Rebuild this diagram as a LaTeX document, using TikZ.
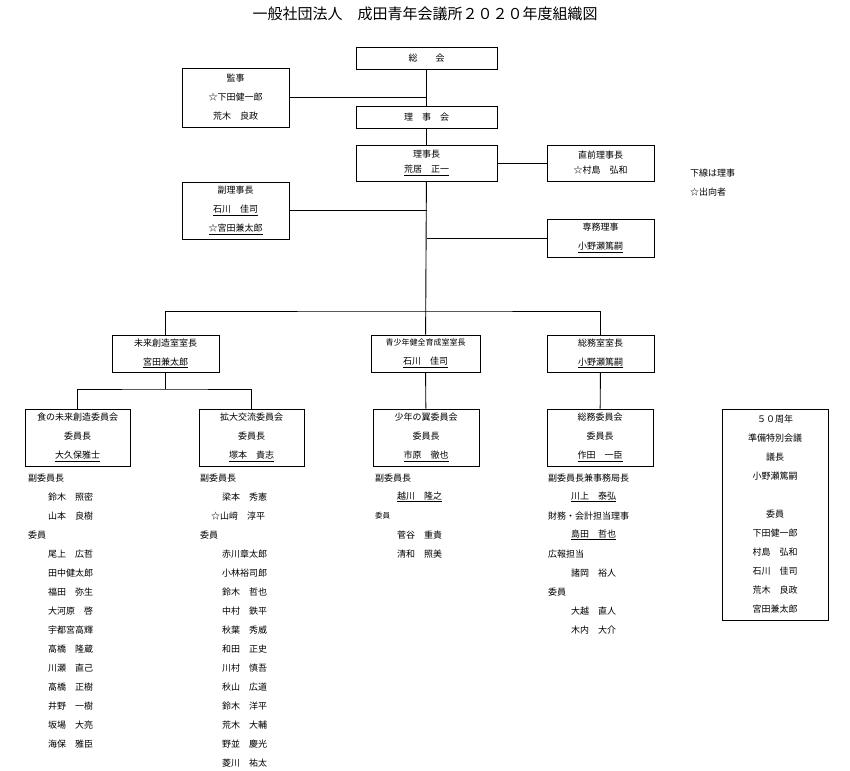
\documentclass[tikz,border=0pt]{standalone}
\usepackage{fontspec}
\setmainfont{Noto Sans CJK JP}
\usetikzlibrary{positioning}
\tikzset{
  box/.style={draw, line width=0.9pt, align=center, inner sep=0pt,
    font=\fontsize{9}{19}\selectfont},
  item/.style={anchor=west, inner sep=0pt, font=\fontsize{9}{11}\selectfont},
  line/.style={line width=0.9pt}
}
\begin{document}
\begin{tikzpicture}[x=1pt, y=-1pt]
  \useasboundingbox (0,0) rectangle (850,770);
  \node[font=\fontsize{15}{18}\selectfont] (title) at (425,14) {一般社団法人　成田青年会議所２０２０年度組織図};

  % upper part
  \node[box, minimum width=141pt, minimum height=22pt] (soukai) at (426.5,58) {総　　会};
  \node[box, minimum width=107pt, minimum height=59pt] (kanji) at (235.5,97.5) {監事\\☆下田健一郎\\荒木　良政};
  \node[box, minimum width=141pt, minimum height=22pt] (rijikai) at (426.5,117) {理　事　会};
  \node[box, minimum width=141pt, minimum height=36pt, font=\fontsize{9}{15}\selectfont] (rijicho) at (426.5,163) {理事長\\\underline{荒居　正一}};
  \node[box, minimum width=107pt, minimum height=36pt, font=\fontsize{9}{15}\selectfont] (chokuzen) at (600.5,163) {直前理事長\\☆村島　弘和};
  \node[box, minimum width=107pt, minimum height=57pt] (fukuriji) at (235.5,210.5) {副理事長\\\underline{石川　佳司}\\\underline{☆宮田兼太郎}};
  \node[box, minimum width=107pt, minimum height=38pt] (senmu) at (600.5,238) {専務理事\\\underline{小野瀬篤嗣}};
  \node[item] (note1) at (690,173) {下線は理事};
  \node[item] (note2) at (690,192) {☆出向者};

  % rooms
  \node[box, minimum width=107pt, minimum height=37pt] (mirai) at (165.5,353.5) {未来創造室室長\\\underline{宮田兼太郎}};
  \node[box, minimum width=109pt, minimum height=37pt] (seishonen) at (425.5,353.5) {{\fontsize{8}{10}\selectfont 青少年健全育成室室長}\\\underline{石川　佳司}};
  \node[box, minimum width=107pt, minimum height=37pt] (somushitsu) at (600.5,353.5) {総務室室長\\\underline{小野瀬篤嗣}};

  % committees
  \node[box, minimum width=105pt, minimum height=57pt] (shoku) at (77.5,437.5) {食の未来創造委員会\\委員長\\\underline{大久保雅士}};
  \node[box, minimum width=105pt, minimum height=57pt] (kakudai) at (251.5,437.5) {拡大交流委員会\\委員長\\\underline{塚本　貴志}};
  \node[box, minimum width=106pt, minimum height=57pt] (shonen) at (426,437.5) {少年の翼委員会\\委員長\\\underline{市原　徹也}};
  \node[box, minimum width=106pt, minimum height=57pt] (somuiin) at (600,437.5) {総務委員会\\委員長\\\underline{作田　一臣}};
  \node[box, minimum width=106pt, minimum height=211pt] (gojusshu) at (775,514.5) {５０周年\\準備特別会議\\議長\\小野瀬篤嗣\\\\委員\\下田健一郎\\村島　弘和\\石川　佳司\\荒木　良政\\宮田兼太郎};

  % connectors
  \draw[line] (soukai) -- (rijikai);
  \draw[line] (rijikai) -- (rijicho);
  \draw[line] (rijicho) -- (seishonen);
  \draw[line] (kanji.east) -- (kanji.east -| soukai);
  \draw[line] (chokuzen.west) -- (chokuzen.west -| rijicho.east);
  \draw[line] (fukuriji.east) -- (fukuriji.east -| rijicho);
  \draw[line] (senmu.west) -- (senmu.west -| rijicho);
  \coordinate (split) at (426.5,311);
  \draw[line] (mirai.north) |- (split) -| (somushitsu.north);
  \coordinate (split2) at (165.5,389);
  \draw[line] (mirai.south) -- (split2);
  \draw[line] (shoku.north) |- (split2) -| (kakudai.north);
  \draw[line] (seishonen) -- (shonen);
  \draw[line] (somushitsu) -- (somuiin);

  % member lists
  \foreach \txt/\dx [count=\i] in {副委員長/0, 鈴木　照密/20, 山本　良樹/20, 委員/0,
      尾上　広哲/20, 田中健太郎/20, 福田　弥生/20, 大河原　啓/20, 宇都宮高輝/20,
      髙橋　隆蔵/20, 川瀬　直己/20, 髙橋　正樹/20, 井野　一樹/20, 坂場　大亮/20, 海保　雅臣/20}
    \node[item] (shoku-\i) at (28+\dx,478+19*\i-19) {\txt};
  \foreach \txt/\dx [count=\i] in {副委員長/0, 梁本　秀憲/22, ☆山﨑　淳平/11, 委員/0,
      赤川章太郎/22, 小林裕司郎/22, 鈴木　哲也/22, 中村　鉄平/22, 秋葉　秀威/22,
      和田　正史/22, 川村　慎吾/22, 秋山　広道/22, 鈴木　洋平/22, 荒木　大輔/22,
      野並　慶光/22, 菱川　祐太/22}
    \node[item] (kakudai-\i) at (200+\dx,478+19*\i-19) {\txt};
  \foreach \txt/\dx [count=\i] in {副委員長/0, \underline{越川　隆之}/22, {\fontsize{7.5}{9}\selectfont 委員}/0,
      菅谷　重貴/22, 清和　照美/22}
    \node[item] (shonen-\i) at (375+\dx,478+19*\i-19) {\txt};
  \foreach \txt/\dx [count=\i] in {副委員長兼事務局長/0, \underline{川上　泰弘}/23, 財務・会計担当理事/0,
      \underline{島田　哲也}/23, 広報担当/0, 諸岡　裕人/23, 委員/0, 大越　直人/23, 木内　大介/23}
    \node[item] (somuiin-\i) at (548+\dx,478+19*\i-19) {\txt};
\end{tikzpicture}
\end{document}
